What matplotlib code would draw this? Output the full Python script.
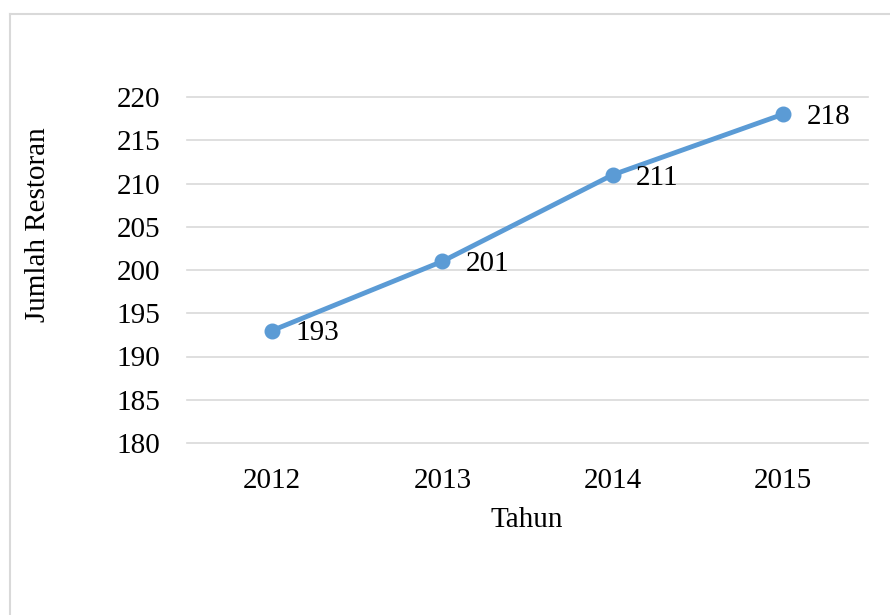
import matplotlib.pyplot as plt
from matplotlib.lines import Line2D

# data
years = ['2012', '2013', '2014', '2015']
restoran = [193, 201, 211, 218]
yticks = [180, 185, 190, 195, 200, 205, 210, 215, 220]

plt.rcParams['font.family'] = ['Liberation Serif', 'DejaVu Serif']
fs = 21

fig = plt.figure(figsize=(8.9, 6.15), dpi=100)
ax = fig.add_axes([187/890, 1-443/615, 681/890, 346/615])

# chart border (light grey, open at right and bottom)
grey = '#D9D9D9'
fig.add_artist(Line2D([10/890, 1], [1-13.5/615, 1-13.5/615], color=grey, lw=1.5, transform=fig.transFigure))
fig.add_artist(Line2D([10/890, 10/890], [0, 1-13.5/615], color=grey, lw=1.5, transform=fig.transFigure))

x = range(len(years))
ax.plot(x, restoran, color='#5B9BD5', lw=3.5, marker='o', markersize=10.5, zorder=3)

# data labels
for xi, v in zip(x, restoran):
    ax.annotate(str(v), (xi, v), xytext=(17, -2), textcoords='offset points',
                ha='left', va='center', fontsize=fs)

ax.set_xlim(-0.5, 3.5)
ax.set_ylim(180, 220)
ax.set_yticks(yticks)
ax.set_xticks(list(x))
ax.set_xticklabels(years)
ax.tick_params(length=0, labelsize=fs)
ax.tick_params(axis='y', pad=19)
ax.tick_params(axis='x', pad=18)
ax.grid(axis='y', color=grey, lw=1.2)
for gl in ax.get_ygridlines():
    gl.set_clip_on(False)
ax.set_axisbelow(True)
for s in ax.spines.values():
    s.set_visible(False)

ax.set_xlabel('Tahun', fontsize=fs)
ax.set_ylabel('Jumlah Restoran', fontsize=fs)
ax.xaxis.set_label_coords(0.499, -0.2225)
ax.xaxis.label.set_va('center')
ax.yaxis.set_label_coords(-0.219, 0.63)
ax.yaxis.label.set_va('center')

fig.savefig('out.png', dpi=100)
